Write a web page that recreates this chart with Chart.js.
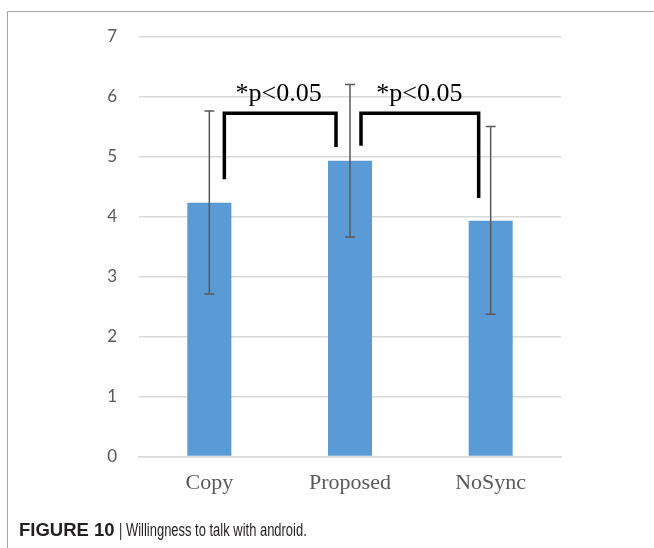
<!DOCTYPE html>
<html>
<head>
<meta charset="utf-8">
<script src="https://cdn.jsdelivr.net/npm/chart.js@4"></script>
<style>
  html, body { margin: 0; padding: 0; background: #fff; }
  #wrap { position: relative; width: 654px; height: 548px; overflow: hidden; }
  #frame { position: absolute; left: 7px; top: 11px; width: 700px; height: 600px;
           border-left: 1px solid #a6a6a6; border-top: 1px solid #a6a6a6; }
  #chartBox { position: absolute; left: 0; top: 0; width: 654px; height: 548px; }
  #caption { position: absolute; left: 19px; top: 519px; font-family: "Liberation Sans", Arial, sans-serif;
             color: #231f20; white-space: nowrap; }
  #caption b { font-size: 18.5px; font-weight: bold; }
  #caption span { display: inline-block; font-size: 18px; transform: scaleX(0.72); transform-origin: left center; }
</style>
</head>
<body>
<div id="wrap">
  <div id="frame"></div>
  <div id="chartBox"><canvas id="willingChart"></canvas></div>
  <div id="caption"><b>FIGURE 10</b> <span>| Willingness to talk with android.</span></div>
</div>
<script>
// data
const conditions = ['Copy', 'Proposed', 'NoSync'];
const meanScores = [4.23, 4.93, 3.93];
const errorHigh = [5.76, 6.20, 5.50];
const errorLow = [2.71, 3.66, 2.37];
const yTicks = [0, 1, 2, 3, 4, 5, 6, 7];

// significance brackets: pairs of condition indices
const bracketPairs = [[0, 1], [1, 2]];
const bracketTop = [5.72, 5.72];
const bracketLeftEnd = [4.62, 5.18];
const bracketRightEnd = [5.16, 4.31];
const bracketLabel = ['*p<0.05', '*p<0.05'];
const labelLevel = 5.92;

const errorBarPlugin = {
    id: 'errorBars',
    afterDatasetsDraw(chart) {
        const ctx = chart.ctx;
        const y = chart.scales.y;
        const meta = chart.getDatasetMeta(0);
        ctx.save();
        ctx.strokeStyle = '#595959';
        ctx.lineWidth = 1.5;
        meta.data.forEach((bar, i) => {
            const yHi = y.getPixelForValue(errorHigh[i]);
            const yLo = y.getPixelForValue(errorLow[i]);
            ctx.beginPath();
            ctx.moveTo(bar.x, yHi);
            ctx.lineTo(bar.x, yLo);
            ctx.moveTo(bar.x - 5, yHi);
            ctx.lineTo(bar.x + 5, yHi);
            ctx.moveTo(bar.x - 5, yLo);
            ctx.lineTo(bar.x + 5, yLo);
            ctx.stroke();
        });
        ctx.restore();
    }
};

const bracketPlugin = {
    id: 'brackets',
    afterDatasetsDraw(chart) {
        const ctx = chart.ctx;
        const y = chart.scales.y;
        const meta = chart.getDatasetMeta(0);
        ctx.save();
        ctx.strokeStyle = '#000';
        ctx.lineWidth = 3.5;
        ctx.lineCap = 'butt';
        bracketPairs.forEach((pair, k) => {
            const a = meta.data[pair[0]];
            const b = meta.data[pair[1]];
            const x1 = a.x + (k === 0 ? 15 : 11);
            const x2 = b.x - (k === 0 ? 14 : 12);
            const top = y.getPixelForValue(bracketTop[k]);
            ctx.beginPath();
            ctx.moveTo(x1, y.getPixelForValue(bracketLeftEnd[k]));
            ctx.lineTo(x1, top);
            ctx.lineTo(x2, top);
            ctx.lineTo(x2, y.getPixelForValue(bracketRightEnd[k]));
            ctx.stroke();

            ctx.fillStyle = '#000';
            ctx.font = '26px "Liberation Serif", "Times New Roman", serif';
            ctx.textAlign = 'center';
            ctx.textBaseline = 'alphabetic';
            ctx.fillText(bracketLabel[k], (a.x + b.x) / 2 - 1, y.getPixelForValue(labelLevel));
        });
        ctx.restore();
    }
};

document.addEventListener('DOMContentLoaded', function() {
    const ctx = document.getElementById('willingChart').getContext('2d');
    new Chart(ctx, {
        type: 'bar',
        data: {
            labels: conditions,
            datasets: [{
                data: meanScores,
                backgroundColor: '#5b9bd5',
                borderWidth: 0,
                categoryPercentage: 1,
                barPercentage: 0.313
            }]
        },
        options: {
            responsive: true,
            maintainAspectRatio: false,
            animation: false,
            layout: { padding: { left: 7, right: 93, top: 36.5, bottom: 41.5 } },
            plugins: {
                legend: { display: false },
                tooltip: { enabled: false }
            },
            scales: {
                x: {
                    grid: { display: false, drawTicks: false },
                    border: { color: '#d9d9d9', width: 1.5 },
                    ticks: {
                        color: '#595959',
                        padding: 14,
                        font: { family: '"Liberation Serif", "Times New Roman", serif', size: 22 }
                    },
                    afterFit: function(scale) { scale.height = 50; }
                },
                y: {
                    min: 0,
                    max: 7,
                    afterBuildTicks: function(scale) {
                        scale.ticks = yTicks.map(v => ({ value: v }));
                    },
                    grid: { color: '#d9d9d9', lineWidth: 1.5, drawTicks: false },
                    border: { display: false },
                    ticks: {
                        color: '#595959',
                        padding: 22,
                        font: { family: 'Lato, "Open Sans", sans-serif', size: 17 }
                    },
                    afterFit: function(scale) { scale.width = 132; }
                }
            }
        },
        plugins: [errorBarPlugin, bracketPlugin]
    });
});
</script>
</body>
</html>
